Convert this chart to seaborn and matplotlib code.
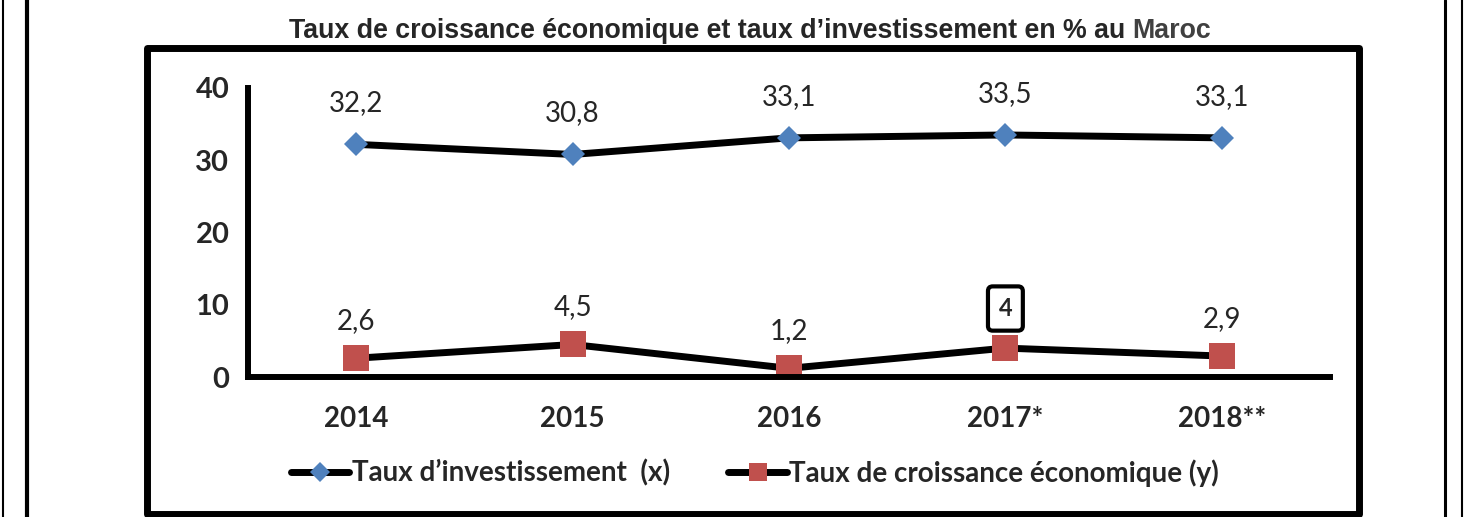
import matplotlib
matplotlib.use("Agg")
import matplotlib.pyplot as plt
import seaborn as sns
from matplotlib.lines import Line2D
from matplotlib.patches import Rectangle
from matplotlib.ticker import FixedLocator

# data
years = ["2014", "2015", "2016", "2017*", "2018**"]
invest_rate = [32.2, 30.8, 33.1, 33.5, 33.1]     # Taux d'investissement (x)
growth_rate = [2.6, 4.5, 1.2, 4.0, 2.9]          # Taux de croissance économique (y)
boxed_year = "2017*"
y_ticks = [0, 10, 20, 30, 40]

title_main = "Taux de croissance économique et taux d\u2019investissement en % au "
title_tail = "Maroc"
label_invest = "Taux d\u2019investissement  (x)"
label_growth = "Taux de croissance économique (y)"

BLUE = "#4F81BD"
RED = "#C0504D"


def fmt(v):
    if v == int(v):
        return str(int(v))
    return f"{v:.1f}".replace(".", ",")


sns.set_style("white")
plt.rcParams["font.family"] = ["Lato", "DejaVu Sans"]

W, H = 1474, 517
fig = plt.figure(figsize=(W / 100, H / 100), dpi=100)
ax = fig.add_axes([248 / W, 1 - 377 / H, (1330 - 248) / W, (377 - 88) / H])

sns.lineplot(x=years, y=invest_rate, ax=ax, sort=False, color="black",
             linewidth=5, marker="D", markersize=12.5, markerfacecolor=BLUE,
             markeredgecolor=BLUE, markeredgewidth=0, label=label_invest)
sns.lineplot(x=years, y=growth_rate, ax=ax, sort=False, color="black",
             linewidth=5, marker="s", markersize=18.5, markerfacecolor=RED,
             markeredgecolor=RED, markeredgewidth=0, label=label_growth)

ax.set_xlim(-0.5, len(years) - 0.5)
ax.set_ylim(0, 40)
ax.set_yticks(y_ticks)
ax.set_xticks(range(len(years)))
ax.set_xticklabels(years)
ax.xaxis.set_minor_locator(FixedLocator([i - 0.5 for i in range(len(years) + 1)]))
ax.set_xlabel("")
ax.set_ylabel("")

for side in ["top", "right"]:
    ax.spines[side].set_visible(False)
for side in ["left", "bottom"]:
    ax.spines[side].set_linewidth(4.3)
    ax.spines[side].set_color("black")

ax.tick_params(axis="y", which="major", direction="out", length=4.5, width=4,
               color="black", labelsize=21, pad=9)
ax.tick_params(axis="x", which="major", length=0, labelsize=20, pad=21)
ax.tick_params(axis="x", which="minor", direction="out", length=4.5, width=4,
               color="black")
for lab in ax.get_xticklabels() + ax.get_yticklabels():
    lab.set_fontweight("bold")

# data labels
for i, v in enumerate(invest_rate):
    ax.annotate(fmt(v), (i, v), xytext=(0, 29.5), textcoords="offset points",
                ha="center", va="center", fontsize=20)
for i, v in enumerate(growth_rate):
    if years[i] == boxed_year:
        ax.annotate(fmt(v), (i, v), xytext=(0, 28.5), textcoords="offset points",
                    ha="center", va="center", fontsize=17, fontweight="bold",
                    bbox=dict(boxstyle="round,pad=0.45,rounding_size=0.2",
                              fc="white", ec="black", lw=3))
    else:
        ax.annotate(fmt(v), (i, v), xytext=(0, 27), textcoords="offset points",
                    ha="center", va="center", fontsize=20)

# legend below the axis
handles, labels = ax.get_legend_handles_labels()
if ax.get_legend() is not None:
    ax.get_legend().remove()
leg = fig.legend(handles, labels, loc="center", bbox_to_anchor=(755 / W, 1 - 473 / H),
                 ncol=2, frameon=False, handlelength=2.1, handletextpad=0.1,
                 columnspacing=2.1, prop={"weight": "bold", "size": 20})
leg.legend_handles[0].set_markersize(10.5)
leg.legend_handles[1].set_markersize(12.5)

# title centred, last word in grey
renderer = fig.canvas.get_renderer()
ty = 1 - 38 / H
title_kw = dict(va="baseline", fontsize=19.3, fontweight="bold", family="Liberation Sans")
t1 = fig.text(0, ty, title_main, ha="left", **title_kw)
t2 = fig.text(0, ty, title_tail, ha="left", color="#404040", **title_kw)
w1 = t1.get_window_extent(renderer=renderer).width
w2 = t2.get_window_extent(renderer=renderer).width
x0 = 750 - (w1 + w2) / 2
t1.set_x(x0 / W)
t2.set_x((x0 + w1) / W)

# chart frame and page borders
fig.add_artist(Rectangle((147 / W, 3.5 / H), (1359 - 147) / W, (514 - 48) / H,
                         transform=fig.transFigure, fill=False, ec="black",
                         lw=5, joinstyle="round"))
for x, lw in [(2.5, 1.5), (27, 3), (1445, 2.2), (1461.5, 1.5)]:
    fig.add_artist(Line2D([x / W, x / W], [0, 1], transform=fig.transFigure,
                          color="black", lw=lw))

fig.savefig("out.png", dpi=100)
